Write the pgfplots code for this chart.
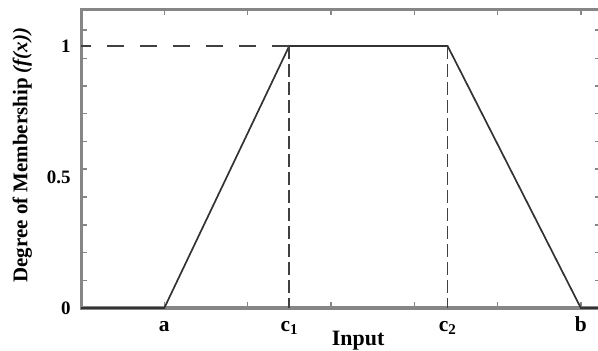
\documentclass[border=0pt]{standalone}
\usepackage{fontspec}
\setmainfont{Liberation Serif}
\usepackage{pgfplots}
\pgfplotsset{compat=1.18}
\begin{document}
\begin{tikzpicture}
\useasboundingbox (0,0) rectangle (598bp,351bp);
\begin{axis}[
  at={(81bp,43bp)}, anchor=south west,
  scale only axis, width=519bp, height=298bp,
  xmin=0, xmax=6.23, ymin=0, ymax=1.137,
  axis line style={draw=gray!95, line width=3bp},
  xtick={1,2.5,4.4,6},
  xticklabels={a,c\textsubscript{1},c\textsubscript{2},b},
  ytick={0,0.5,1},
  yticklabels={0,0.5,1},
  major tick length=0pt,
  minor xtick={1,2,...,6},
  minor ytick={0.104,0.211,0.317,0.424,0.530,0.636,0.742,0.847,0.953,1.06},
  minor tick length=5.5bp,
  tick align=inside,
  tick style={draw=gray!95, line width=1.4bp},
  xticklabel style={font=\bfseries\fontsize{21.5}{21.5}\selectfont, anchor=base, yshift=-23bp},
  yticklabel style={font=\bfseries\fontsize{19}{19}\selectfont, anchor=east, xshift=-7bp},
  xlabel={Input},
  xlabel style={font=\bfseries\fontsize{22}{22}\selectfont, at={(axis description cs:0.534,-0.127)}, anchor=base},
  ylabel={Degree of Membership \textit{(f(x))}},
  ylabel style={font=\bfseries\fontsize{21}{21}\selectfont, at={(axis description cs:-0.1035,0.513)}, anchor=base, rotate=0},
  clip=false,
]
% trapezoidal membership function
\addplot[draw=black!80, line width=1.7bp] coordinates {(0,0) (1,0) (2.5,1) (4.4,1) (6,0) (6.23,0)};
% guide lines to the plateau corners
\addplot[draw=black!75, line width=1.8bp, dash pattern=on 17bp off 16bp] coordinates {(2.5,1) (0,1)};
\addplot[draw=black!75, line width=1.8bp, dash pattern=on 13bp off 5bp] coordinates {(2.5,1) (2.5,0)};
\addplot[draw=black!75, line width=1.8bp, dash pattern=on 13bp off 5bp] coordinates {(4.4,1) (4.4,0)};
\end{axis}
\end{tikzpicture}
\end{document}
